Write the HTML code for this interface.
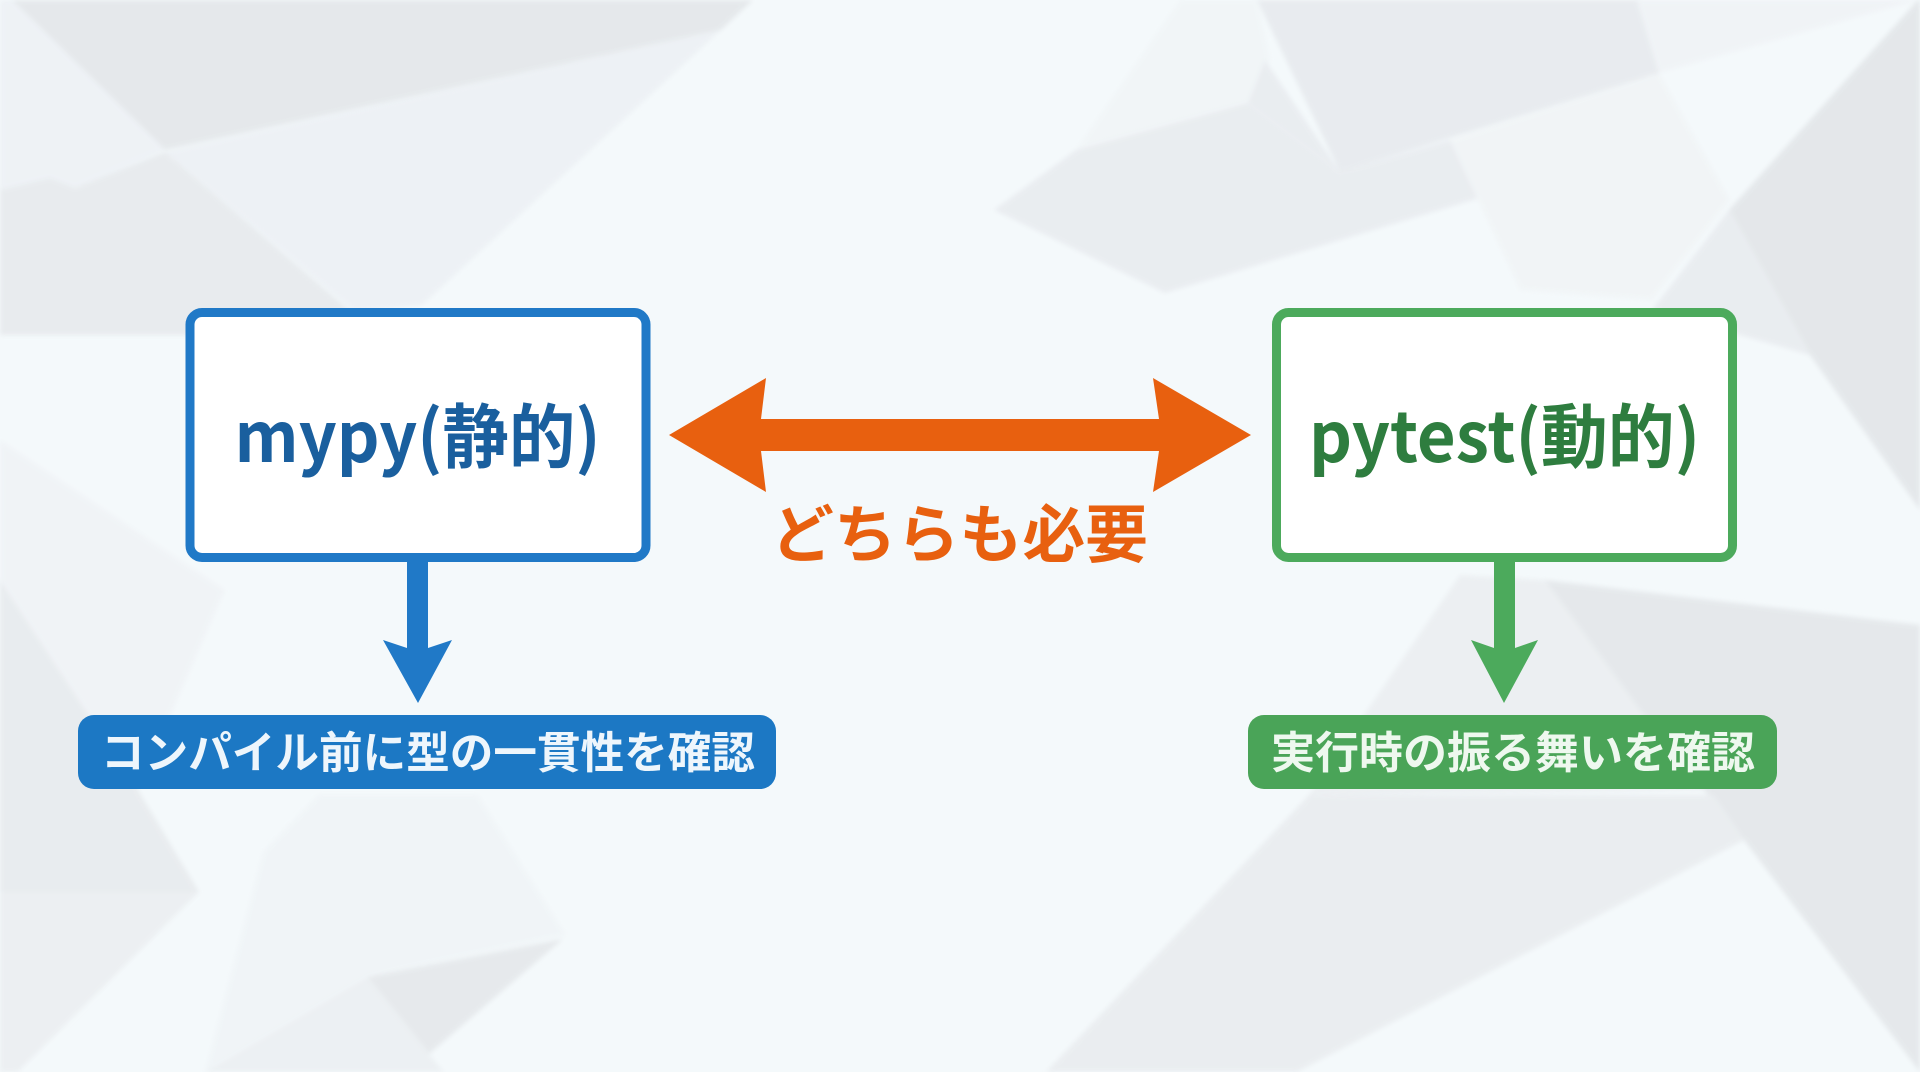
<!DOCTYPE html>
<html lang="ja">
<head>
<meta charset="utf-8">
<title>mypy と pytest</title>
<style>
html,body{margin:0;padding:0;width:1920px;height:1072px;overflow:hidden;background:#f4f9fb}
svg{display:block}
text{font-family:"Liberation Sans","Noto Sans CJK JP",sans-serif;font-weight:700}
.j{font-family:"Noto Sans CJK JP","Liberation Sans",sans-serif}
</style>
</head>
<body>
<svg width="1920" height="1072" viewBox="0 0 1920 1072" xmlns="http://www.w3.org/2000/svg">
<defs><filter id="b" x="-5%" y="-5%" width="110%" height="110%"><feGaussianBlur stdDeviation="2.5"/></filter></defs>
<rect width="1920" height="1072" fill="#f4f9fb"/>
<g filter="url(#b)" opacity="0.85">
<polygon points="0,0 12,0 165,150 75,188 50,178 0,190" fill="#edf1f5"/>
<polygon points="12,0 753,0 721,30 165,150" fill="#e3e6e9"/>
<polygon points="721,30 165,152 355,312 422,305" fill="#ecf0f4"/>
<polygon points="0,190 50,178 75,188 165,152 355,315 186,335 0,335" fill="#e6e9ec"/>
<polygon points="0,440 225,590 138,790 0,580" fill="#f0f3f6"/>
<polygon points="0,580 138,790 199,892 0,892" fill="#e7eaed"/>
<polygon points="0,892 199,892 18,1072 0,1072" fill="#ebeef1"/>
<polygon points="318,795 478,795 566,935 367,977 205,1072 263,852" fill="#f0f4f7"/>
<polygon points="367,977 563,939 429,1054" fill="#e4e7ea"/>
<polygon points="367,977 429,1054 444,1072 205,1072" fill="#ebeff2"/>
<polygon points="1076,150 1248,103 1270,60 1257,0 1180,0" fill="#f1f5f7"/>
<polygon points="1257,0 1637,0 1659,73 1340,172" fill="#e6e9ed"/>
<polygon points="1265,60 1340,172 1248,103" fill="#e8ebef"/>
<polygon points="1076,150 1248,103 1340,172 1450,140 1496,193 1165,293 994,210" fill="#e8ebef"/>
<polygon points="1637,0 1918,0 1659,73" fill="#f0f3f6"/>
<polygon points="1450,140 1659,73 1730,200 1652,300 1520,290" fill="#f1f4f6"/>
<polygon points="1918,0 1920,0 1920,510 1810,355 1729,210" fill="#e2e5e8"/>
<polygon points="1729,210 1652,310 1810,355" fill="#e8ebef"/>
<polygon points="1460,575 1545,580 1720,790 1309,795" fill="#ebeef1"/>
<polygon points="1545,580 1920,625 1920,1072 1744,840 1640,710" fill="#e3e6e9"/>
<polygon points="1309,795 1713,795 1744,840 1297,1072 1046,1072" fill="#e9ecef"/>
</g>

<!-- blue box -->
<rect x="190" y="312.500" width="456" height="245" rx="12" fill="#fff" stroke="#2079c7" stroke-width="9"/>
<text x="234.500" y="462" font-size="70" fill="#1a5f9e" textLength="366" lengthAdjust="spacingAndGlyphs" class="j">mypy(静的)</text>
<polygon points="407,561 428,561 428,648 452,640 418,703 383,640 407,648" fill="#2079c7"/>
<rect x="78" y="715" width="698" height="74" rx="16" fill="#1c78c4"/>
<text x="101" y="768" font-size="44" fill="#eef6fc" textLength="654" lengthAdjust="spacingAndGlyphs" class="j">コンパイル前に型の一貫性を確認</text>

<!-- orange arrow -->
<polygon points="669,435 766,378 761,419 1159,419 1153,378 1251,435 1153,492 1159,451 761,451 766,492" fill="#e8600f"/>
<text x="771" y="557" font-size="63" fill="#e8600f" textLength="377" lengthAdjust="spacingAndGlyphs" class="j">どちらも必要</text>

<!-- green box -->
<rect x="1276.500" y="312.500" width="456" height="245" rx="12" fill="#fff" stroke="#4caa5c" stroke-width="9"/>
<text x="1309" y="462" font-size="70" fill="#2e7d3f" textLength="391" lengthAdjust="spacingAndGlyphs" class="j">pytest(動的)</text>
<polygon points="1494,561 1515,561 1515,648 1538,640 1504,703 1471,640 1494,648" fill="#4caa5c"/>
<rect x="1248" y="715" width="529" height="74" rx="16" fill="#4aa458"/>
<text x="1271" y="768" font-size="44" fill="#eef8ef" textLength="484" lengthAdjust="spacingAndGlyphs" class="j">実行時の振る舞いを確認</text>
</svg>
</body>
</html>
